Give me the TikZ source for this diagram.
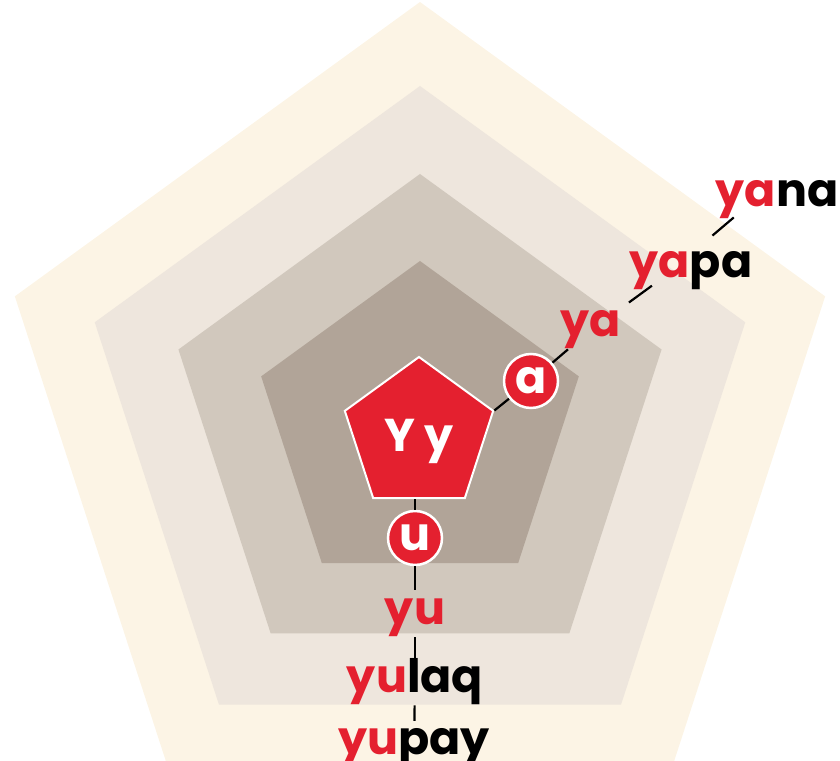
\documentclass[tikz,border=0pt]{standalone}
\usepackage{fontspec}
\setmainfont{Poppins}
\usetikzlibrary{shapes.geometric}
\definecolor{yred}{HTML}{E4202F}
\definecolor{band1}{HTML}{FCF4E5}
\definecolor{band2}{HTML}{EEE6DD}
\definecolor{band3}{HTML}{D1C8BD}
\definecolor{band4}{HTML}{B1A498}
\tikzset{
	big/.style={font=\bfseries\fontsize{46}{46}\selectfont},
	word/.style={big, inner sep=0pt, anchor=base},
	letter/.style={big, circle, fill=yred, draw=white, line width=2.5pt, minimum size=54pt, inner sep=0pt, text=white},
	link/.style={line width=2.2pt},
}
\begin{document}
\begin{tikzpicture}[x=1pt, y=1pt]
	\useasboundingbox (0,0) rectangle (840,760);
	\begin{scope}[shift={(420,332)}]
		\fill[band1] (90:426) -- (162:426) -- (234:426) -- (306:426) -- (18:426) -- cycle;
		\fill[band2] (90:342) -- (162:342) -- (234:342) -- (306:342) -- (18:342) -- cycle;
		\fill[band3] (90:254) -- (162:254) -- (234:254) -- (306:254) -- (18:254) -- cycle;
		\fill[band4] (90:167) -- (162:167) -- (234:167) -- (306:167) -- (18:167) -- cycle;
	\end{scope}
	
	\node[big, regular polygon, regular polygon sides=5, minimum size=156pt, inner sep=0pt,
		fill=yred, draw=white, line width=2pt, text=white, text depth=0pt] (Yy) at (419,325) {Y y};
	
	\node[letter] (a) at (531,379) {a};
	\node[letter] (u) at (415,222) {u};
	
	\node[word, text=yred] (ya) at (591,423) {ya};
	\node[word] (yapa) at (691,482) {{\color{yred}ya}pa};
	\node[word] (yana) at (777,553) {{\color{yred}ya}na};
	
	\node[word, text=yred] (yu) at (415,135) {yu};
	\node[word] (yulaq) at (415,67) {{\color{yred}yu}laq};
	\node[word] (yupay) at (414,6) {{\color{yred}yu}pay};
	
	\draw[link] (Yy.corner 5) -- (a);
	\draw[link] (a) -- (ya.220);
	\draw[link, shorten <=14pt, shorten >=-8pt] (ya.36) -- (yapa.203);
	\draw[link, shorten <=25pt, shorten >=-3pt] (yapa.83) -- (yana.203);
	
	\draw[link] (u |- Yy.corner 3) -- (u);
	\draw[link, shorten >=9pt] (u) -- (yu);
	\draw[link] (yu) -- (yulaq);
	\draw[link, shorten >=7pt] (yulaq) -- (yupay);
\end{tikzpicture}
\end{document}
